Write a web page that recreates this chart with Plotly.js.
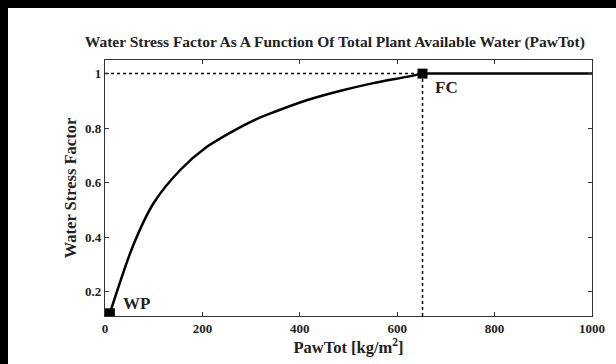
<!DOCTYPE html>
<html>
<head>
<meta charset="utf-8">
<script src="https://cdn.plot.ly/plotly-3.0.1.min.js"></script>
<style>
html,body{margin:0;padding:0;background:#000;width:616px;height:364px;overflow:hidden;}
#chart{position:absolute;left:8px;top:8px;width:608px;height:356px;background:#fff;}
</style>
</head>
<body>
<div id="chart"></div>
<script>
// Curve: water stress factor vs PawTot
const pawTot = [10, 58, 100, 155, 210, 263, 311, 346, 414, 484, 551, 619, 652];
const stress = [0.12, 0.37, 0.525, 0.647, 0.732, 0.789, 0.833, 0.858, 0.902, 0.937, 0.965, 0.988, 1.0];
// Key points
const wpX = 10, wpY = 0.12;
const fcX = 652, fcY = 1.0;
const xMax = 1000;
const yRange = [0.11, 1.05];
const xTicks = [0, 200, 400, 600, 800, 1000];
const yTicks = [0.2, 0.4, 0.6, 0.8, 1];
const yTickText = ['0.2', '0.4', '0.6', '0.8', '1'];

const fontFam = '"Liberation Serif", "Times New Roman", serif';
const txt = '#222';

const traces = [
  {x: [0, fcX], y: [fcY, fcY], mode: 'lines', line: {color: '#000', width: 1.5, dash: 'dot'}, hoverinfo: 'skip'},
  {x: [fcX, fcX], y: [yRange[0], fcY], mode: 'lines', line: {color: '#000', width: 1.5, dash: 'dot'}, hoverinfo: 'skip'},
  {x: pawTot, y: stress, mode: 'lines', line: {color: '#000', width: 2.5, shape: 'spline', smoothing: 0.8}},
  {x: [fcX, xMax], y: [fcY, fcY], mode: 'lines', line: {color: '#000', width: 2.5}},
  {x: [wpX, fcX], y: [wpY, fcY], mode: 'markers', marker: {symbol: 'square', size: 10, color: '#000'}}
];

const layout = {
  width: 608, height: 356,
  margin: {l: 97, r: 24, t: 52, b: 48},
  paper_bgcolor: '#fff', plot_bgcolor: '#fff',
  showlegend: false,
  font: {family: fontFam, color: txt},
  title: {text: '<b>Water Stress Factor As A Function Of Total Plant Available Water (PawTot)</b>',
          font: {family: fontFam, size: 15.5, color: txt}, x: 0.472, xref: 'paper', xanchor: 'center', y: 0.905, yanchor: 'middle'},
  xaxis: {range: [0, xMax], tickvals: xTicks, ticks: 'inside', ticklen: 4, tickcolor: '#333',
          showline: true, linecolor: '#333', linewidth: 1.2, mirror: 'ticks', showgrid: false, zeroline: false,
          tickfont: {family: fontFam, size: 13, color: txt, weight: 'bold'},
          title: {text: '<b>PawTot [kg/m<sup>2</sup>]</b>', font: {family: fontFam, size: 16.5, color: txt}, standoff: 3}},
  yaxis: {range: yRange, tickvals: yTicks, ticktext: yTickText, ticks: 'inside', ticklen: 4, tickcolor: '#333',
          showline: true, linecolor: '#333', linewidth: 1.2, mirror: 'ticks', showgrid: false, zeroline: false,
          tickfont: {family: fontFam, size: 13, color: txt, weight: 'bold'},
          title: {text: '<b>Water Stress Factor</b>', font: {family: fontFam, size: 16.5, color: txt}, standoff: 4}},
  annotations: [
    {x: wpX, y: wpY, xref: 'x', yref: 'y', text: '<b>WP</b>', showarrow: false, xanchor: 'left', yanchor: 'bottom',
     xshift: 11, yshift: -2, font: {family: fontFam, size: 17, color: txt}},
    {x: fcX, y: fcY, xref: 'x', yref: 'y', text: '<b>FC</b>', showarrow: false, xanchor: 'left', yanchor: 'top',
     xshift: 10, yshift: -2, font: {family: fontFam, size: 17, color: txt}}
  ]
};

Plotly.newPlot('chart', traces, layout, {displayModeBar: false, staticPlot: true});
</script>
</body>
</html>
